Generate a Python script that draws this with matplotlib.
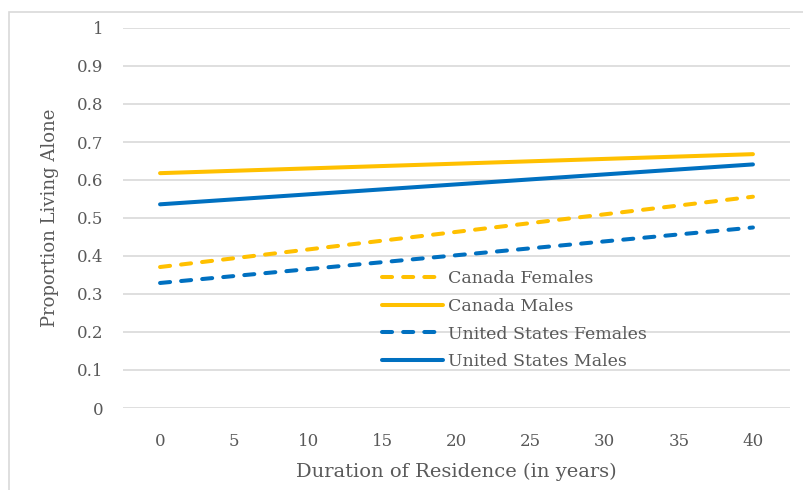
import matplotlib.pyplot as plt
from matplotlib.patches import Rectangle

plt.rcParams['font.family'] = ['DejaVu Serif']

# years of residence (endpoints of the fitted lines)
years = [0, 40]
canada_females = [0.371, 0.556]
canada_males = [0.618, 0.668]
us_females = [0.329, 0.475]
us_males = [0.536, 0.641]
x_ticks = [0, 5, 10, 15, 20, 25, 30, 35, 40]
y_ticks = [0, 0.1, 0.2, 0.3, 0.4, 0.5, 0.6, 0.7, 0.8, 0.9, 1]
y_labels = ['0', '0.1', '0.2', '0.3', '0.4', '0.5', '0.6', '0.7', '0.8', '0.9', '1']

yellow = '#FFC000'
blue = '#0070C0'
txt = '#595959'

fig = plt.figure(figsize=(8.04, 4.9), dpi=100)
ax = fig.add_axes([123 / 804, 1 - 408 / 490, (790 - 123) / 804, (408 - 28) / 490])

# outer chart border
fig.patches.append(Rectangle((9 / 804, -0.05), 1.0, 1 - 12 / 490 + 0.05,
                             transform=fig.transFigure, fill=False,
                             edgecolor='#d9d9d9', linewidth=1.2))

dash = dict(dashes=(2.5, 2.75), dash_capstyle='round')
ax.plot(years, canada_females, color=yellow, lw=2.9, label='Canada Females', **dash)
ax.plot(years, canada_males, color=yellow, lw=2.9, solid_capstyle='round', label='Canada Males')
ax.plot(years, us_females, color=blue, lw=2.9, label='United States Females', **dash)
ax.plot(years, us_males, color=blue, lw=2.9, solid_capstyle='round', label='United States Males')

ax.set_xlim(-2.5, 42.5)
ax.set_ylim(0, 1)
ax.set_xticks(x_ticks)
ax.set_yticks(y_ticks, y_labels)
ax.grid(axis='y', color='#d9d9d9', lw=1.2)
ax.set_axisbelow(True)
for s in ax.spines.values():
    s.set_visible(False)
ax.tick_params(length=0, labelsize=12, colors=txt)
ax.tick_params(axis='x', pad=18)
ax.tick_params(axis='y', pad=14)

ax.set_xlabel('Duration of Residence (in years)', fontsize=14, color=txt, labelpad=9)
ax.set_ylabel('Proportion Living Alone', fontsize=13, color=txt, labelpad=13)

leg = ax.legend(loc='upper left', bbox_to_anchor=(382 / 804, 1 - 270 / 490),
                bbox_transform=fig.transFigure, frameon=False, fontsize=12.5,
                handlelength=3.5, handletextpad=0.3, labelspacing=0.62,
                borderpad=0, borderaxespad=0)
for t in leg.get_texts():
    t.set_color(txt)

fig.savefig('out.png', dpi=100)
